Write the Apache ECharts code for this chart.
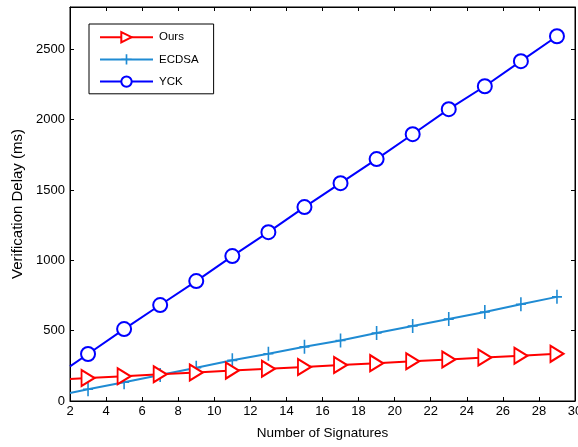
<!DOCTYPE html>
<html><head><meta charset="utf-8">
<script src="https://cdn.jsdelivr.net/npm/echarts@6/dist/echarts.min.js"></script>
<style>html,body{margin:0;padding:0;background:#fff}#c{width:578px;height:447px}</style>
</head><body><div id="c"></div>
<script>
const xValues = [2, 3, 5, 7, 9, 11, 13, 15, 17, 19, 21, 23, 25, 27, 29];
const oursValues = [156, 163, 176, 190, 203, 216, 229, 242, 256, 269, 282, 295, 309, 322, 335];
const ecdsaValues = [57, 84, 134, 185, 236, 289, 336, 385, 430, 483, 533, 582, 632, 688, 740];
const yckValues = [246, 334, 511, 682, 852, 1030, 1200, 1378, 1548, 1719, 1896, 2074, 2237, 2415, 2592];
const xTicks = [2, 4, 6, 8, 10, 12, 14, 16, 18, 20, 22, 24, 26, 28, 30];
const yTicks = [0, 500, 1000, 1500, 2000, 2500];

function toData(vals) {
  return xValues.map((x, i) => i === 0 ? { value: [x, vals[i]], symbol: 'none' } : [x, vals[i]]);
}
const font = 'Liberation Sans, Arial, sans-serif';
const plusPath = 'path://M4.2,0 H5.8 V6.2 H10 V7.8 H5.8 V14 H4.2 V7.8 H0 V6.2 H4.2 Z';

const chart = echarts.init(document.getElementById('c'), null, { renderer: 'canvas' });
const axisLine = { show: true, onZero: false, lineStyle: { color: '#000', width: 1 } };
const tickIn = { show: true, inside: true, length: 4, lineStyle: { color: '#000' } };
chart.setOption({
  animation: false,
  backgroundColor: '#fff',
  grid: { left: 70, right: 3, top: 7, bottom: 46, outerBoundsMode: 'none', containLabel: false,
    show: true, borderColor: '#000', borderWidth: 1, backgroundColor: 'transparent' },
  legend: {
    orient: 'vertical', left: 89, top: 24,
    padding: [7, 15, 6, 10], itemGap: 10, itemWidth: 53, itemHeight: 13,
    borderColor: '#000', borderWidth: 1, backgroundColor: '#fff',
    textStyle: { fontFamily: font, fontSize: 11.5, color: '#000', padding: [0, 0, 0, 1] },
    data: ['Ours', 'ECDSA', 'YCK']
  },
  xAxis: [{
    type: 'value', min: 2, max: 30, interval: 2,
    axisLine, axisTick: tickIn, splitLine: { show: false },
    axisLabel: { color: '#000', fontFamily: font, fontSize: 13, margin: 4,
      formatter: v => xTicks.includes(v) ? String(v) : '' },
    name: 'Number of Signatures', nameLocation: 'middle', nameGap: 25,
    nameTextStyle: { color: '#000', fontFamily: font, fontSize: 13.5 }
  }, {
    type: 'value', position: 'top', min: 2, max: 30, interval: 2, show: true,
    axisLine, axisTick: tickIn, axisLabel: { show: false }, splitLine: { show: false }
  }],
  yAxis: [{
    type: 'value', min: 0, max: 2800, interval: 500,
    axisLine, axisTick: tickIn, splitLine: { show: false },
    axisLabel: { color: '#000', fontFamily: font, fontSize: 13, margin: 5, showMaxLabel: false,
      formatter: v => yTicks.includes(v) ? String(v) : '' },
    name: 'Verification Delay (ms)', nameLocation: 'middle', nameGap: 42,
    nameTextStyle: { color: '#000', fontFamily: font, fontSize: 15 }
  }, {
    type: 'value', position: 'right', min: 0, max: 2800, interval: 500, show: true,
    axisLine, axisTick: tickIn, axisLabel: { show: false }, splitLine: { show: false }
  }],
  series: [{
    name: 'Ours', type: 'line', data: toData(oursValues),
    symbol: 'emptyTriangle', symbolSize: [16, 13], symbolRotate: -90, showAllSymbol: true,
    color: '#ff0000', lineStyle: { width: 2, color: '#ff0000' },
    itemStyle: { color: '#ff0000', borderColor: '#ff0000', borderWidth: 2 }, z: 3
  }, {
    name: 'ECDSA', type: 'line', data: toData(ecdsaValues),
    symbol: plusPath, symbolSize: [10, 14], showAllSymbol: true,
    color: '#1f8bd3', lineStyle: { width: 2, color: '#1f8bd3' },
    itemStyle: { color: '#1f8bd3', borderWidth: 0 }, z: 2
  }, {
    name: 'YCK', type: 'line', data: toData(yckValues),
    symbol: 'emptyCircle', symbolSize: 14, showAllSymbol: true,
    color: '#0000ff', lineStyle: { width: 2, color: '#0000ff' },
    itemStyle: { color: '#0000ff', borderColor: '#0000ff', borderWidth: 2 }, z: 2
  }, {
    name: 'frame', type: 'line', xAxisIndex: 1, yAxisIndex: 1,
    data: xValues.map((x, i) => [x, yckValues[i]]), symbol: 'none', silent: true,
    lineStyle: { width: 0, opacity: 0 }
  }]
});
</script></body></html>
